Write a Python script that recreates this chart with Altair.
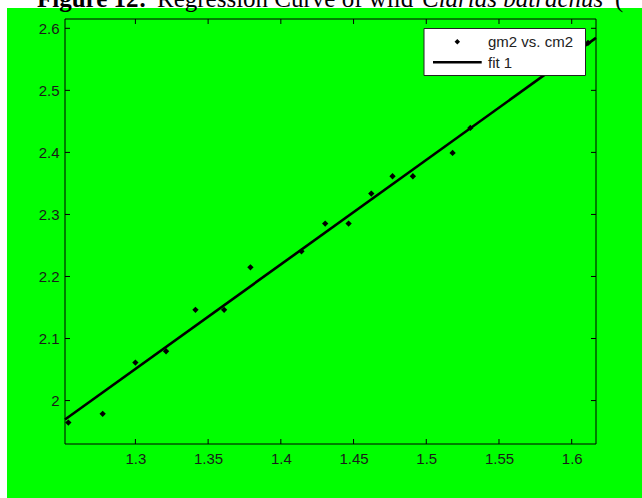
import altair as alt
import pandas as pd

# Measured lengths (cm2) and weights (gm2) of the specimens
cm2 = [1.2539, 1.2775, 1.3000, 1.3211, 1.3413, 1.3610, 1.3791, 1.4142,
       1.4305, 1.4466, 1.4622, 1.4768, 1.4908, 1.5181, 1.5303, 1.6112]
gm2 = [1.9645, 1.9786, 2.0612, 2.0795, 2.1462, 2.1462, 2.2148, 2.2406,
       2.2853, 2.2853, 2.3336, 2.3615, 2.3615, 2.3992, 2.4395, 2.5765]

# Straight-line fit, evaluated at both ends of the x range
fit_x = [1.2516, 1.6167]
fit_y = [1.9694, 2.5845]

x_ticks = [1.3, 1.35, 1.4, 1.45, 1.5, 1.55, 1.6]
y_ticks = [2.0, 2.1, 2.2, 2.3, 2.4, 2.5, 2.6]

W, H = 531, 425
LABEL_FONT = "Liberation Sans"
SERIF = "Liberation Serif"

xs = alt.Scale(domain=[1.2516, 1.6167], nice=False, zero=False)
ys = alt.Scale(domain=[1.930, 2.615], nice=False, zero=False)

axis_common = dict(
    tickSize=0, domain=False, grid=False, title=None, zindex=1,
    labelFont=LABEL_FONT, labelFontSize=15, labelColor="#1a1a1a", format="~g",
)
x_axis = alt.Axis(values=x_ticks, labelPadding=7, **axis_common)
y_axis = alt.Axis(values=y_ticks, labelPadding=6, **axis_common)

points_df = pd.DataFrame({"cm2": cm2, "gm2": gm2})
fit_df = pd.DataFrame({"cm2": fit_x, "gm2": fit_y})
xt_df = pd.DataFrame({"cm2": x_ticks})
yt_df = pd.DataFrame({"gm2": y_ticks})
one = pd.DataFrame({"a": [0]})

X = alt.X("cm2:Q", scale=xs, axis=x_axis)
Y = alt.Y("gm2:Q", scale=ys, axis=y_axis)

# green backdrop behind the axes
backdrop = alt.Chart(one).mark_rect(color="#00ff00").encode(
    x=alt.value(-58), x2=alt.value(W + 46), y=alt.value(-11), y2=alt.value(H + 54)
)

points = alt.Chart(points_df).mark_point(
    shape="diamond", filled=True, color="black", size=40, opacity=1
).encode(x=X, y=Y)

fit = alt.Chart(fit_df).mark_line(color="black", strokeWidth=2.6).encode(x=X, y=Y)

# inward-pointing ticks on all four sides of the box
tick_style = dict(color="black", strokeWidth=1)
ticks_bottom = alt.Chart(xt_df).mark_rule(**tick_style).encode(
    x=X, y=alt.value(H), y2=alt.value(H - 5))
ticks_top = alt.Chart(xt_df).mark_rule(**tick_style).encode(
    x=X, y=alt.value(0), y2=alt.value(5))
ticks_left = alt.Chart(yt_df).mark_rule(**tick_style).encode(
    y=Y, x=alt.value(0), x2=alt.value(5))
ticks_right = alt.Chart(yt_df).mark_rule(**tick_style).encode(
    y=Y, x=alt.value(W), x2=alt.value(W - 5))

frame = alt.Chart(one).mark_rect(fillOpacity=0, stroke="black", strokeWidth=1).encode(
    x=alt.value(0), x2=alt.value(W), y=alt.value(0), y2=alt.value(H)
)

# legend box
leg_box = alt.Chart(one).mark_rect(fill="white", stroke="#222", strokeWidth=1).encode(
    x=alt.value(359), x2=alt.value(520.5), y=alt.value(9.5), y2=alt.value(56.5)
)
leg_pt = alt.Chart(one).mark_point(shape="diamond", filled=True, color="black", size=30, opacity=1).encode(
    x=alt.value(392.3), y=alt.value(22.7)
)
leg_line = alt.Chart(one).mark_rule(color="black", strokeWidth=2.6).encode(
    x=alt.value(368), x2=alt.value(416.7), y=alt.value(43.3)
)
leg_txt1 = alt.Chart(one).mark_text(
    text="gm2 vs. cm2", font=LABEL_FONT, fontSize=15, color="#222", align="left", baseline="middle"
).encode(x=alt.value(423), y=alt.value(23))
leg_txt2 = alt.Chart(one).mark_text(
    text="fit 1", font=LABEL_FONT, fontSize=15, color="#222", align="left", baseline="middle"
).encode(x=alt.value(423), y=alt.value(43.5))

# caption above the figure
cap_style = dict(font=SERIF, fontSize=25, color="black", align="left", baseline="alphabetic")
cap1 = alt.Chart(one).mark_text(text="Figure 12:", fontWeight="bold", **cap_style).encode(
    x=alt.value(-28), y=alt.value(-12.5))
cap2 = alt.Chart(one).mark_text(text="Regression Curve of wild", **cap_style).encode(
    x=alt.value(92), y=alt.value(-12.5))
cap3 = alt.Chart(one).mark_text(text="Clarias batrachus", fontStyle="italic", **cap_style).encode(
    x=alt.value(357), y=alt.value(-12.5))
cap4 = alt.Chart(one).mark_text(text="(", **cap_style).encode(
    x=alt.value(550), y=alt.value(-12.5))

chart = alt.layer(
    backdrop, fit, points,
    ticks_bottom, ticks_top, ticks_left, ticks_right, frame,
    leg_box, leg_pt, leg_line, leg_txt1, leg_txt2,
    cap1, cap2, cap3, cap4,
).properties(
    width=W, height=H,
    autosize=alt.AutoSizeParams(type="none"),
    padding={"left": 65, "top": 19, "right": 46, "bottom": 54},
    background="white",
).configure_view(strokeWidth=0)

chart.save("out.html", embed_options={"renderer": "svg", "actions": False})
